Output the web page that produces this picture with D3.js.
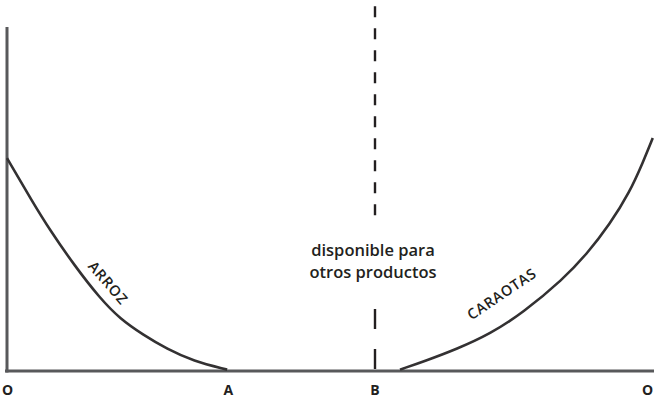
<!DOCTYPE html>
<html>
<head>
<meta charset="utf-8">
<script src="https://cdn.jsdelivr.net/npm/d3@7"></script>
<style>
  body { margin: 0; background: #fff; }
  text { font-family: "Open Sans", "Noto Sans", sans-serif; fill: #231f20; }
</style>
</head>
<body>
<div id="chart"></div>
<script>
// curve points (x: 0..100 along the axis, y: 0..100 up the axis)
const arrozX = [0, 4.1, 6.7, 10.6, 14.5, 17.7, 21.3, 25.0, 29.1, 34.4];
const arrozY = [61.9, 48.8, 41.0, 30.5, 21.2, 15.1, 10.5, 6.4, 2.9, 0.4];
const caraotasX = [61.4, 65.3, 70.3, 75.5, 80.6, 86.9, 90.6, 94.2, 97.3, 99.4, 100.9];
const caraotasY = [0.4, 2.9, 6.4, 10.8, 16.9, 26.7, 34.0, 42.7, 52.0, 60.8, 67.7];

// axis points and labels
const tickPos = [0, 34.5, 57.4, 100];
const tickLabels = ["O", "A", "B", "O"];
const dividerX = 57.5;
const upperDash = [106, 45];   // y from / to
const lowerDash = [18, 0];
const midText = ["disponible para", "otros productos"];

const W = 654, H = 403;
const svg = d3.select("#chart").append("svg")
  .attr("width", W).attr("height", H);

const x = d3.scaleLinear().domain([0, 100]).range([7, 647]);
const y = d3.scaleLinear().domain([0, 100]).range([371, 27]);

// x axis
const xAxis = svg.append("g")
  .attr("transform", `translate(0,${y(0)})`)
  .call(d3.axisBottom(x).tickValues(tickPos)
    .tickFormat((d, i) => tickLabels[i])
    .tickSize(0).tickPadding(14));
xAxis.select(".domain").attr("d", `M5,0H${W}`)
  .attr("stroke", "#58595b").attr("stroke-width", 3);
xAxis.selectAll("text")
  .style("font-family", "'Open Sans', sans-serif")
  .style("font-weight", 700).style("font-size", "14px").attr("fill", "#231f20");

// y axis
const yAxis = svg.append("g")
  .attr("transform", `translate(${x(0)},0)`)
  .call(d3.axisLeft(y).ticks(0).tickSize(0));
yAxis.select(".domain").attr("d", `M0,${y(0) + 1.5}V${y(100)}`)
  .attr("stroke", "#58595b").attr("stroke-width", 3);

// curves
const line = d3.line()
  .x(d => x(d[0])).y(d => y(d[1]))
  .curve(d3.curveBasis);

svg.append("path")
  .datum(d3.zip(arrozX, arrozY))
  .attr("d", line)
  .attr("fill", "none").attr("stroke", "#333132").attr("stroke-width", 2.6);

svg.append("path")
  .datum(d3.zip(caraotasX, caraotasY))
  .attr("d", line)
  .attr("fill", "none").attr("stroke", "#333132").attr("stroke-width", 2.6);

// dashed divider at B
svg.append("line")
  .attr("x1", x(dividerX)).attr("x2", x(dividerX))
  .attr("y1", y(upperDash[0])).attr("y2", y(upperDash[1]))
  .attr("stroke", "#231f20").attr("stroke-width", 2.4)
  .attr("stroke-dasharray", "11 11");

svg.append("line")
  .attr("x1", x(dividerX)).attr("x2", x(dividerX))
  .attr("y1", y(lowerDash[0])).attr("y2", y(lowerDash[1]))
  .attr("stroke", "#231f20").attr("stroke-width", 2.4)
  .attr("stroke-dasharray", "20 20");

// middle note
svg.append("text")
  .attr("text-anchor", "middle")
  .style("font-size", "16.5px").style("font-weight", 600)
  .selectAll("tspan")
  .data(midText)
  .join("tspan")
  .attr("x", x(dividerX) - 2)
  .attr("y", (d, i) => 256 + i * 22)
  .text(d => d);

// curve labels
svg.append("text")
  .attr("transform", `translate(${x(15.8)},${y(25.6)}) rotate(49)`)
  .attr("text-anchor", "middle").attr("dy", "0.35em")
  .style("font-size", "14.5px").style("font-weight", 600)
  .style("letter-spacing", "0.8px")
  .text("ARROZ");

svg.append("text")
  .attr("transform", `translate(${x(77.3)},${y(22.4)}) rotate(-34)`)
  .attr("text-anchor", "middle").attr("dy", "0.35em")
  .style("font-size", "14.5px").style("font-weight", 600)
  .style("letter-spacing", "0.6px")
  .text("CARAOTAS");
</script>
</body>
</html>
